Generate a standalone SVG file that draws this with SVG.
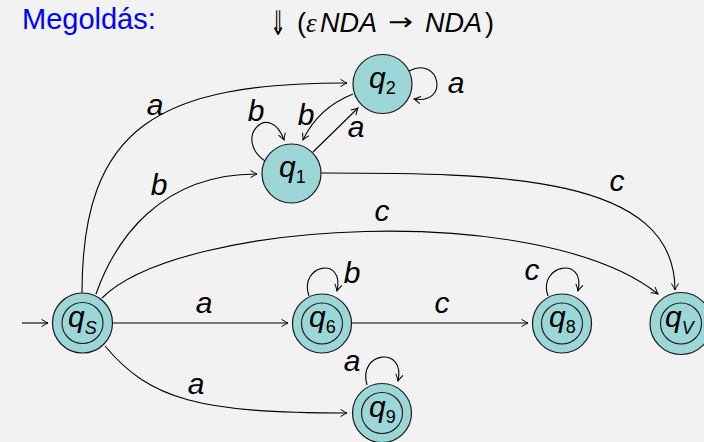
<svg xmlns="http://www.w3.org/2000/svg" width="704" height="442" viewBox="0 0 704 442">
<defs>
<marker id="arr" viewBox="-8 -5 10 10" refX="0" refY="0" markerWidth="10" markerHeight="10" markerUnits="userSpaceOnUse" orient="auto">
<path d="M -6.5,-3.6 Q -2,-0.8 0,0 Q -2,0.8 -6.5,3.6" fill="none" stroke="#000" stroke-width="1"/>
</marker>
<style>
.st{fill:#9dd6d6;stroke:#1a1a1a;stroke-width:1.2}
.in{fill:none;stroke:#1a1a1a;stroke-width:1.1}
.ed{fill:none;stroke:#000;stroke-width:1.1;marker-end:url(#arr)}
.q{font-family:"Liberation Sans",Arial,sans-serif;font-style:italic;font-size:30px;fill:#000}
.sub{font-size:18px}
.su{font-style:normal}
.lb{font-family:"Liberation Sans",Arial,sans-serif;font-style:italic;font-size:30px;fill:#000;text-anchor:middle}
.tt{font-family:"Liberation Sans",Arial,sans-serif;font-size:27px;fill:#000}
</style>
</defs>
<rect width="704" height="442" fill="#f2f2f2"/>
<text x="22" y="29" font-family="Liberation Sans, Arial, sans-serif" font-size="29" fill="#0000ff">Megoldás:</text>
<g id="title" class="tt">
<text x="270" y="35" font-family="DejaVu Sans, sans-serif" font-size="34" textLength="16" lengthAdjust="spacingAndGlyphs">⇓</text>
<text x="297" y="32">(</text>
<text x="306" y="32" font-family="Liberation Serif, serif" font-style="italic" font-size="27">ε</text>
<text x="320" y="32" font-style="italic">NDA</text>
<text x="388" y="30" font-family="DejaVu Sans, sans-serif" font-size="24" textLength="25" lengthAdjust="spacingAndGlyphs">→</text>
<text x="425" y="32" font-style="italic">NDA</text>
<text x="485" y="32">)</text>
</g>
<g id="edges">
<path class="ed" d="M 22,323 L 48,323"/>
<path class="ed" d="M 82,293 C 82,125 160,83 347,83"/>
<path class="ed" d="M 96,294 C 115,240 160,174 257,174"/>
<path class="ed" d="M 102,298 C 180,220 540,200 658,294"/>
<path class="ed" d="M 321,173 C 500,173 675,175 675,290"/>
<path class="ed" d="M 113,323 L 288,323"/>
<path class="ed" d="M 351,323 L 528,323"/>
<path class="ed" d="M 105,346 C 150,400 200,413 347,413"/>
<path class="ed" d="M 313,152 L 358,108"/>
<path class="ed" d="M 353,94 Q 318,108 303,140"/>
<path class="ed" d="M 265,161 C 232,138 270,100 284,140"/>
<path class="ed" d="M 409,71 C 440,55 450,105 414,99"/>
<path class="ed" d="M 309,296 C 298,265 345,255 337,291"/>
<path class="ed" d="M 548,296 C 537,265 586,255 578,291"/>
<path class="ed" d="M 367,385 C 357,352 406,345 398,381"/>
<text class="lb" x="155" y="115">a</text>
<text class="lb" x="159" y="195">b</text>
<text class="lb" x="382" y="221">c</text>
<text class="lb" x="617" y="191">c</text>
<text class="lb" x="204" y="313">a</text>
<text class="lb" x="442" y="313">c</text>
<text class="lb" x="196" y="394">a</text>
<text class="lb" x="356" y="137">a</text>
<text class="lb" x="306" y="125">b</text>
<text class="lb" x="256" y="121">b</text>
<text class="lb" x="456" y="93">a</text>
<text class="lb" x="352" y="283">b</text>
<text class="lb" x="532" y="280">c</text>
<text class="lb" x="352" y="371">a</text>
</g>
<g id="n-qs">
<circle class="st" cx="82.5" cy="323" r="30"/>
<circle class="in" cx="82.5" cy="323" r="20.5"/>
<text class="q" x="68" y="327">q<tspan class="sub" dy="7">S</tspan></text>
</g>
<g id="n-q1">
<circle class="st" cx="291.5" cy="173.5" r="29.5"/>
<text class="q" x="279" y="177">q<tspan class="sub su" dy="6">1</tspan></text>
</g>
<g id="n-q2">
<circle class="st" cx="382.5" cy="84" r="29.5"/>
<text class="q" x="369" y="88">q<tspan class="sub su" dy="6">2</tspan></text>
</g>
<g id="n-q6">
<circle class="st" cx="322" cy="323.5" r="29.5"/>
<circle class="in" cx="322" cy="323.5" r="20.5"/>
<text class="q" x="309" y="327">q<tspan class="sub su" dy="6">6</tspan></text>
</g>
<g id="n-q8">
<circle class="st" cx="562" cy="323.5" r="29.5"/>
<circle class="in" cx="562" cy="323.5" r="20.5"/>
<text class="q" x="549" y="327">q<tspan class="sub su" dy="6">8</tspan></text>
</g>
<g id="n-q9">
<circle class="st" cx="382" cy="413" r="29.5"/>
<circle class="in" cx="382" cy="413" r="20.5"/>
<text class="q" x="369" y="417">q<tspan class="sub su" dy="6">9</tspan></text>
</g>
<g id="n-qv">
<circle class="st" cx="681" cy="323.5" r="31"/>
<circle class="in" cx="681" cy="323.5" r="20.5"/>
<text class="q" x="665" y="327">q<tspan class="sub" dy="7">V</tspan></text>
</g>
</svg>
